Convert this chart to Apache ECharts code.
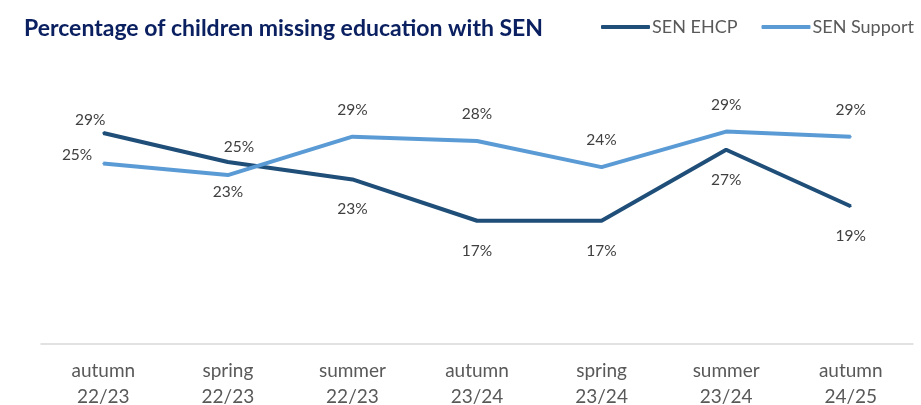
<!DOCTYPE html>
<html>
<head>
<meta charset="utf-8">
<script src="https://cdn.jsdelivr.net/npm/echarts@6/dist/echarts.min.js"></script>
<style>html,body{margin:0;padding:0;background:#fff}#c{width:921px;height:405px}</style>
</head>
<body>
<div id="c"></div>
<script>
const categories = ['autumn\n22/23','spring\n22/23','summer\n22/23','autumn\n23/24','spring\n23/24','summer\n23/24','autumn\n24/25'];
const ehcp = [29.1, 25.1, 22.7, 17.0, 17.0, 26.8, 19.0];
const support = [24.9, 23.3, 28.6, 28.0, 24.4, 29.3, 28.6];

const FONT = 'Lato';
const ehcpLabels = [
  {position:'top', distance:4, offset:[-13,0]},
  {position:'top', distance:6, offset:[11,0]},
  {position:'bottom', distance:21},
  {position:'bottom', distance:21},
  {position:'bottom', distance:21},
  {position:'bottom', distance:21},
  {position:'bottom', distance:21}
];
const supportLabels = [
  {position:'left', distance:10, offset:[0,-8]},
  {position:'bottom', distance:8},
  {position:'top', distance:18},
  {position:'top', distance:18},
  {position:'top', distance:18},
  {position:'top', distance:18},
  {position:'top', distance:18}
];
function build(vals, labs){
  return vals.map((v,i)=>({value:v, label:labs[i]}));
}
const chart = echarts.init(document.getElementById('c'), null, {renderer:'canvas'});
chart.setOption({
  animation:false,
  title:{text:'Percentage of children missing education with SEN', left:19, top:12,
    textStyle:{fontFamily:FONT, fontWeight:'bold', fontSize:23, color:'#0B2060'}},
  legend:{right:2, top:13, itemWidth:49, itemHeight:4, itemGap:24, icon:'roundRect',
    textStyle:{fontFamily:FONT, fontSize:18, color:'#595959', padding:[0,0,0,-3]},
    data:['SEN EHCP','SEN Support']},
  grid:{left:41, right:8, top:54, bottom:61, containLabel:false, outerBoundsMode:'none'},
  xAxis:{type:'category', data:categories, boundaryGap:true,
    axisLine:{lineStyle:{color:'#D9D9D9', width:1.5}},
    axisTick:{show:false},
    axisLabel:{fontFamily:FONT, fontSize:19, color:'#595959', lineHeight:26, margin:14, interval:0}},
  yAxis:{type:'value', min:0, max:40, show:false, splitLine:{show:false}},
  series:[
    {name:'SEN EHCP', type:'line', data:build(ehcp, ehcpLabels), symbol:'circle', symbolSize:2,
      lineStyle:{width:4, color:'#1F4E79'}, itemStyle:{color:'#1F4E79'},
      label:{show:true, fontFamily:FONT, fontSize:15.5, color:'#404040',
        formatter:p=>Math.round(p.value)+'%'}},
    {name:'SEN Support', type:'line', data:build(support, supportLabels), symbol:'circle', symbolSize:2,
      lineStyle:{width:4, color:'#5B9BD5'}, itemStyle:{color:'#5B9BD5'},
      label:{show:true, fontFamily:FONT, fontSize:15.5, color:'#404040',
        formatter:p=>Math.round(p.value)+'%'}}
  ]
});
</script>
</body>
</html>
